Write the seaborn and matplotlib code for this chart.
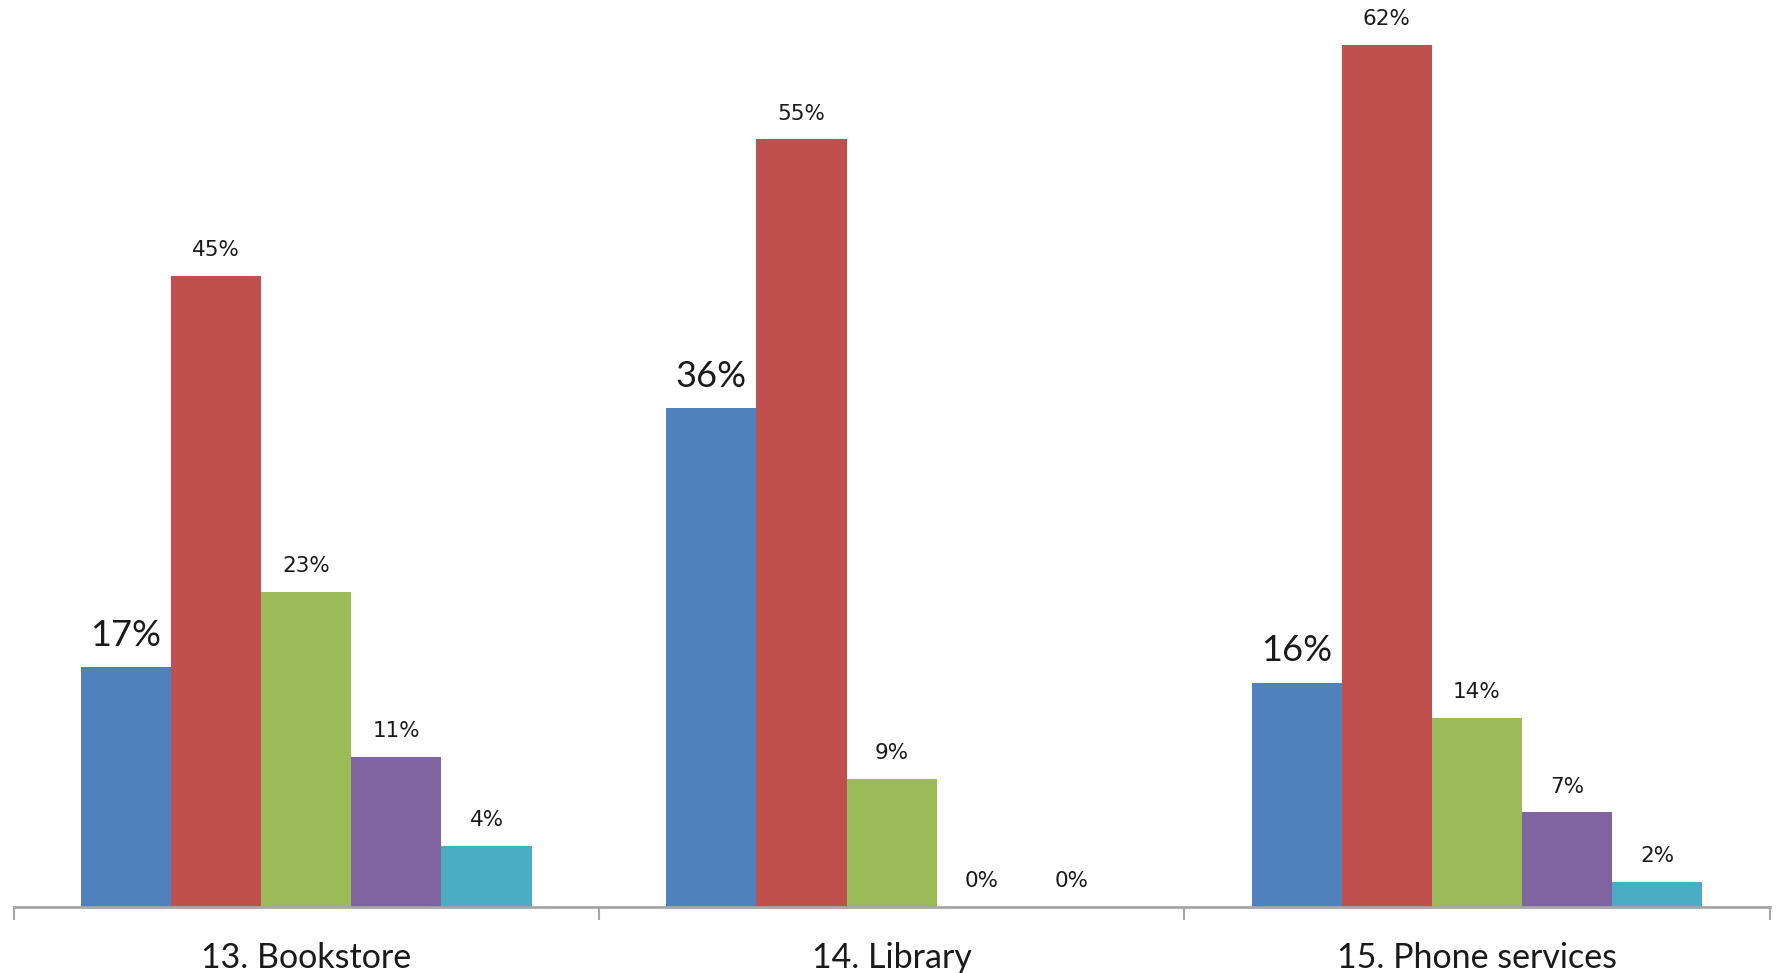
import matplotlib
matplotlib.use("Agg")
import matplotlib.pyplot as plt
import seaborn as sns
import pandas as pd

categories = ["13. Bookstore", "14. Library", "15. Phone services"]
series = ["Series 1", "Series 2", "Series 3", "Series 4", "Series 5"]
s1 = [17.2, 35.8, 16.1]
s2 = [45.3, 55.1, 61.9]
s3 = [22.6, 9.2, 13.6]
s4 = [10.8, 0.0, 6.8]
s5 = [4.4, 0.0, 1.8]
colors = ["#4F81BD", "#C0504D", "#9BBB59", "#8064A2", "#4BACC6"]

rows = []
for name, vals in zip(series, [s1, s2, s3, s4, s5]):
    for cat, v in zip(categories, vals):
        rows.append({"category": cat, "series": name, "value": v})
df = pd.DataFrame(rows)

sns.set_theme(style="white")
plt.rcParams["font.family"] = ["Lato", "DejaVu Sans"]

fig = plt.figure(figsize=(17.77, 9.73), dpi=100)
ax = fig.add_axes([13.6 / 1777, 66 / 973, 1756 / 1777, 907 / 973])

sns.barplot(data=df, x="category", y="value", hue="series", order=categories,
            hue_order=series, palette=colors, width=0.77, gap=0, saturation=1,
            legend=False, ax=ax, linewidth=0)

ax.set_ylim(0, 65.1)
ax.set_xlim(-0.5, 2.5)
for sp in ["left", "right", "top"]:
    ax.spines[sp].set_visible(False)
ax.spines["bottom"].set_color("#a6a6a6")
ax.spines["bottom"].set_linewidth(2)
ax.set_yticks([])
ax.set_ylabel("")
ax.set_xlabel("")
ax.set_xticks([0, 1, 2])
ax.set_xticklabels(categories, fontsize=24.5, color="#1a1a1a")
ax.set_xticks([-0.5, 0.5, 1.5, 2.5], minor=True)
ax.tick_params(axis="x", which="both", bottom=True)
ax.tick_params(axis="x", which="major", length=0, pad=25)
ax.tick_params(axis="x", which="minor", length=9, width=1.5, color="#a6a6a6", direction="out")

for i, cont in enumerate(ax.containers):
    for bar in cont:
        h = bar.get_height()
        label = f"{h:.0f}%"
        x = bar.get_x() + bar.get_width() / 2
        if i == 0:
            ax.annotate(label, (x, h), xytext=(0, 23), textcoords="offset points",
                        ha="center", va="center", fontsize=26, color="#1a1a1a",
                        family=["Lato", "DejaVu Sans"])
        else:
            ax.annotate(label, (x, h), xytext=(0, 18.5), textcoords="offset points",
                        ha="center", va="center", fontsize=15.5, color="#1a1a1a",
                        family=["DejaVu Sans"])

fig.savefig("out.png", dpi=100)
